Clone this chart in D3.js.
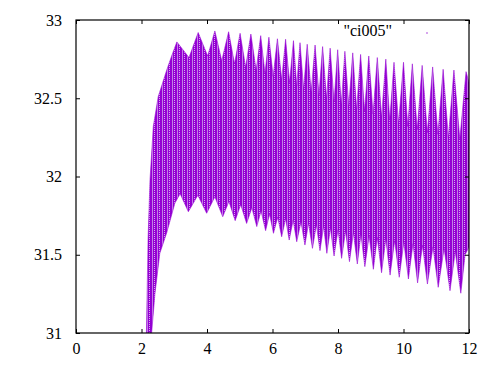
<!DOCTYPE html>
<html>
<head>
<meta charset="utf-8">
<script src="https://cdn.jsdelivr.net/npm/d3@7"></script>
<style>
  body { margin: 0; background: #fff; }
  svg text { font-family: "Liberation Serif", "Times New Roman", Tinos, "DejaVu Serif", serif !important; font-size: 16px !important; fill: #000; }
</style>
</head>
<body>
<script>
// upper edge of the trace: peaks and dips
var upperT = [2.15, 2.20, 2.26, 2.36, 2.51, 2.77, 2.92, 3.08, 3.45, 3.73, 4.02, 4.24, 4.45, 4.66, 4.84,
  5.01, 5.18, 5.34, 5.50, 5.64, 5.77, 5.89, 6.02, 6.15, 6.28, 6.40, 6.52, 6.64, 6.74, 6.84, 6.95, 7.06,
  7.18, 7.30, 7.42, 7.53, 7.65, 7.76, 7.88, 7.99, 8.10, 8.21, 8.33, 8.45, 8.57, 8.69, 8.81, 8.94, 9.07,
  9.20, 9.33, 9.46, 9.58, 9.71, 9.85, 10.00, 10.13, 10.27, 10.42, 10.57, 10.73, 10.89, 11.05, 11.21,
  11.37, 11.54, 11.72, 11.91, 12.00];
var upperV = [31.00, 31.60, 31.98, 32.32, 32.51, 32.68, 32.77, 32.86, 32.76, 32.92, 32.77, 32.93, 32.74, 32.925, 32.72,
  32.915, 32.70, 32.91, 32.68, 32.90, 32.66, 32.89, 32.64, 32.88, 32.62, 32.877, 32.60, 32.868, 32.58, 32.855, 32.56, 32.845,
  32.54, 32.84, 32.52, 32.83, 32.50, 32.82, 32.48, 32.81, 32.46, 32.80, 32.45, 32.79, 32.43, 32.78, 32.42, 32.77, 32.40,
  32.76, 32.38, 32.75, 32.36, 32.73, 32.34, 32.73, 32.32, 32.72, 32.30, 32.71, 32.28, 32.70, 32.27, 32.685,
  32.25, 32.68, 32.24, 32.67, 32.60];

// lower edge of the trace: troughs and bumps
var lowerT = [2.15, 2.31, 2.41, 2.56, 2.77, 3.02, 3.18, 3.43, 3.72, 3.99, 4.24, 4.48, 4.67, 4.86, 5.03,
  5.21, 5.37, 5.52, 5.65, 5.79, 5.91, 6.03, 6.16, 6.28, 6.40, 6.51, 6.63, 6.74, 6.87, 6.99, 7.10, 7.22,
  7.34, 7.45, 7.56, 7.66, 7.77, 7.88, 8.00, 8.11, 8.23, 8.35, 8.47, 8.59, 8.70, 8.82, 8.95, 9.08, 9.20,
  9.33, 9.46, 9.59, 9.73, 9.87, 10.01, 10.15, 10.29, 10.43, 10.58, 10.73, 10.90, 11.06, 11.24, 11.42,
  11.58, 11.75, 11.88, 12.00];
var lowerV = [31.00, 31.00, 31.25, 31.51, 31.64, 31.83, 31.89, 31.775, 31.88, 31.765, 31.87, 31.743, 31.84, 31.718, 31.82,
  31.70, 31.80, 31.68, 31.78, 31.654, 31.76, 31.637, 31.74, 31.615, 31.73, 31.594, 31.72, 31.583, 31.71, 31.562, 31.70, 31.541,
  31.69, 31.526, 31.68, 31.509, 31.67, 31.492, 31.66, 31.477, 31.65, 31.456, 31.64, 31.441, 31.63, 31.424, 31.62, 31.407, 31.61,
  31.385, 31.60, 31.37, 31.59, 31.356, 31.58, 31.345, 31.57, 31.32, 31.56, 31.313, 31.55, 31.292, 31.54, 31.27,
  31.52, 31.254, 31.50, 31.55];

var xTicks = [0, 2, 4, 6, 8, 10, 12];
var yTicks = [31, 31.5, 32, 32.5, 33];
var seriesName = '"ci005"';

var svgWidth = 500,
    svgHeight = 375,
    margin = {top: 20, right: 31, bottom: 42, left: 76};

var width = svgWidth - margin.left - margin.right,
    height = svgHeight - margin.top - margin.bottom;

var svg = d3.select("body")
    .append("svg")
      .attr("width", svgWidth)
      .attr("height", svgHeight);

var defs = svg.append("defs");

// plot clip
defs.append("clipPath")
    .attr("id", "clip")
  .append("rect")
    .attr("width", width)
    .attr("height", height);

// streaky fill, like the dense line
var pat = defs.append("pattern")
    .attr("id", "streaks")
    .attr("patternUnits", "userSpaceOnUse")
    .attr("width", 5)
    .attr("height", 2);
pat.append("rect").attr("width", 5).attr("height", 2).attr("fill", "#9400d3");
pat.append("rect").attr("x", 1).attr("width", 1).attr("height", 2).attr("fill", "#c27ee6");
pat.append("rect").attr("x", 3).attr("width", 1).attr("height", 1).attr("fill", "#d7a6ee");

var chart = svg.append("g")
    .attr("transform", "translate(" + margin.left + "," + margin.top + ")");

var xScale = d3.scaleLinear().domain([0, 12]).range([0, width]),
    yScale = d3.scaleLinear().domain([31, 33]).range([height, 0]);

// merge the two edges into one band
var upper = upperT.map((t, i) => [t, upperV[i]]);
var lower = lowerT.map((t, i) => [t, lowerV[i]]).reverse();
var band = upper.concat(lower);

var line = d3.line()
    .x((d) => xScale(d[0]))
    .y((d) => yScale(d[1]));

chart.append("g")
    .attr("clip-path", "url(#clip)")
  .append("path")
    .attr("d", line(band) + "Z")
    .attr("fill", "url(#streaks)")
    .attr("stroke", "#9400d3")
    .attr("stroke-width", 0.8)
    .attr("stroke-opacity", 0.7);

// axes, gnuplot style: ticks inward on all sides
var axisStyle = (g) => {
  g.attr("font-family", null).attr("font-size", null);
  g.select(".domain").remove();
  g.selectAll("line").attr("stroke", "#000");
};

chart.append("g")
    .attr("transform", "translate(0," + height + ")")
    .call(d3.axisBottom(xScale).tickValues(xTicks).tickSize(-4).tickPadding(10).tickFormat(d3.format("d")))
    .call(axisStyle);

chart.append("g")
    .call(d3.axisTop(xScale).tickValues(xTicks).tickSize(-4).tickFormat(""))
    .call(axisStyle);

chart.append("g")
    .call(d3.axisLeft(yScale).tickValues(yTicks).tickSize(-4).tickPadding(14).tickFormat((d) => d))
    .call(axisStyle);

chart.append("g")
    .attr("transform", "translate(" + width + ",0)")
    .call(d3.axisRight(yScale).tickValues(yTicks).tickSize(-4).tickFormat(""))
    .call(axisStyle);

// frame
chart.append("rect")
    .attr("width", width)
    .attr("height", height)
    .attr("fill", "none")
    .attr("stroke", "#000")
    .attr("stroke-width", 1.2);

// key
chart.append("text")
    .attr("x", 316)
    .attr("y", 16)
    .attr("text-anchor", "end")
    .text(seriesName);

chart.append("rect")
    .attr("x", 350)
    .attr("y", 12)
    .attr("width", 2)
    .attr("height", 2)
    .attr("fill", "#d7a6ee");
</script>
</body>
</html>
